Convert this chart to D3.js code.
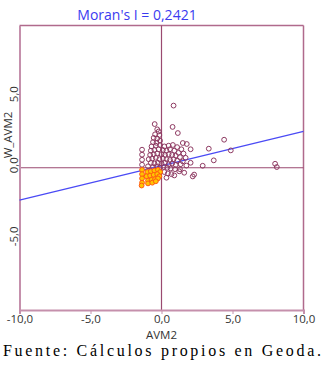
<!DOCTYPE html>
<html>
<head>
  <meta charset="utf-8">
  <title>Moran scatter plot</title>
  <script src="https://d3js.org/d3.v7.min.js"></script>
  <style>
    body{margin:0;background:#fff;}
  </style>
</head>
<body>
  <script>
      var w=332;
      var h=368;
      // regular points (AVM2, W_AVM2)
      var ptsX=[0.85,-0.48,0.78,1.15,1.5,1.78,2.05,3.33,4.41,4.88,3.68,2.9,2.2,2.3,0.9,1.3,8.0,8.12,2.05,
                -0.3,-0.2,-0.45,-0.15,-0.55,-0.3,-0.1,-0.6,-0.35,
                -1.37,-1.37,-1.37,-1.37,
                -0.7,-0.4,-0.1,0.2,0.5,0.8,1.1,1.4,
                -0.75,-0.5,-0.2,0.1,0.35,0.6,0.9,1.2,1.55,
                -0.8,-0.55,-0.3,0.0,0.25,0.5,0.75,1.0,1.3,1.7,
                -0.9,-0.65,-0.4,-0.15,0.1,0.35,0.6,0.85,1.1,1.5,
                -0.75,-0.5,-0.25,0.0,0.25,0.5,0.75,1.0,1.35,1.75,
                -0.95,-0.6,-0.35,-0.1,0.15,0.4,0.65,0.95,1.25,1.6,
                0.2,0.45,0.7,0.35];
      var ptsY=[4.37,3.07,2.87,2.44,1.74,1.67,1.3,1.34,1.97,1.22,0.52,0.14,-0.61,-0.48,-0.54,-0.1,0.28,0.05,0.35,
                2.7,2.55,2.35,2.3,2.1,2.05,1.9,1.8,1.75,
                1.27,0.92,0.56,0.21,
                1.5,1.55,1.6,1.5,1.55,1.6,1.45,1.3,
                1.2,1.25,1.3,1.25,1.2,1.3,1.2,1.05,1.0,
                0.9,0.95,1.0,0.95,0.9,0.95,0.9,0.85,0.75,0.7,
                0.6,0.65,0.7,0.6,0.65,0.6,0.55,0.6,0.5,0.45,
                0.35,0.3,0.35,0.3,0.35,0.25,0.3,0.2,0.25,0.15,
                0.1,0.05,0.1,0.02,0.05,0.0,-0.05,-0.1,-0.25,-0.35,
                -0.3,-0.4,-0.45,-0.7];
      // selected (low-low) points
      var selX=[-1.37,-1.37,-1.37,-1.37,-1.4,
                -1.0,-0.75,-0.5,-0.25,-0.1,
                -1.05,-0.8,-0.55,-0.3,-0.15,
                -0.95,-0.7,-0.45,-0.25,-0.95,-0.65,-0.4];
      var selY=[-0.15,-0.45,-0.75,-1.05,-1.25,
                -0.3,-0.25,-0.2,-0.15,-0.3,
                -0.6,-0.55,-0.5,-0.45,-0.6,
                -0.9,-0.85,-0.8,-0.75,-1.1,-1.05,-0.95];
      var slope=0.2421, intercept=0.14;
      var xTicks=[-10,-5,0,5,10];
      var yTicks=[-5,0,5];
      function fmt(v){return v.toFixed(1).replace(".",",");}

      var svg=d3.select("body").append("svg")
                .attr("width",w).attr("height",h);
      var x=d3.scaleLinear().domain([-10,10]).range([19.5,303.5]);
      var y=d3.scaleLinear().domain([-10,10]).range([310,25.5]);

      svg.append("text")
         .attr("x",137).attr("y",20)
         .attr("text-anchor","middle")
         .attr("font-family","Open Sans, sans-serif").attr("font-size",14)
         .attr("fill","#3b3bf0")
         .text("Moran's I = 0,2421");

      // frame
      svg.append("line").attr("x1",x(-10)).attr("x2",x(10)).attr("y1",y(10)).attr("y2",y(10))
         .attr("stroke","#b06a8c").attr("stroke-width",1.5);
      svg.append("line").attr("x1",x(10)).attr("x2",x(10)).attr("y1",y(10)).attr("y2",y(-10))
         .attr("stroke","#b06a8c").attr("stroke-width",1.5);

      // quadrant lines
      svg.append("line").attr("x1",x(0)).attr("x2",x(0)).attr("y1",y(10)).attr("y2",y(-10))
         .attr("stroke","#9a4a70").attr("stroke-width",1.2);
      svg.append("line").attr("x1",x(-10)).attr("x2",x(10)).attr("y1",y(0)).attr("y2",y(0))
         .attr("stroke","#9a4a70").attr("stroke-width",1.2);

      // axes
      var xa=svg.append("g").attr("transform","translate(0,"+y(-10)+")")
         .call(d3.axisBottom(x).tickValues(xTicks).tickSize(4).tickFormat(fmt));
      xa.select(".domain").attr("stroke","#c590ac").attr("stroke-width",2);
      xa.selectAll(".tick line").attr("stroke","#c590ac");
      xa.selectAll("text").attr("font-family","Open Sans, sans-serif").attr("font-size",11.5)
        .attr("fill","#333").attr("y",5);

      var ya=svg.append("g").attr("transform","translate("+x(-10)+",0)")
         .call(d3.axisLeft(y).tickValues(yTicks).tickSize(0).tickFormat(fmt));
      ya.select(".domain").attr("stroke","#c590ac").attr("stroke-width",2);
      ya.selectAll("text")
        .attr("font-family","Open Sans, sans-serif").attr("font-size",11.5).attr("fill","#333")
        .attr("transform","translate(-2,-3) rotate(-90)")
        .attr("x",0).attr("dy","0").attr("text-anchor","middle");

      svg.append("text")
         .attr("transform","translate(12,135) rotate(-90)")
         .attr("text-anchor","middle")
         .attr("font-family","Open Sans, sans-serif").attr("font-size",11.5).attr("fill","#333")
         .text("W_AVM2");
      svg.append("text")
         .attr("x",x(0)).attr("y",339)
         .attr("text-anchor","middle")
         .attr("font-family","Open Sans, sans-serif").attr("font-size",11.5).attr("fill","#333")
         .text("AVM2");

      // regression line
      svg.append("line")
         .attr("x1",x(-10)).attr("y1",y(slope*-10+intercept))
         .attr("x2",x(10)).attr("y2",y(slope*10+intercept))
         .attr("stroke","#4a4af5").attr("stroke-width",1.2);

      var pts=ptsX.map(function(d,i){return [d,ptsY[i]];});
      svg.selectAll("circle.p").data(pts).enter().append("circle")
         .attr("class","p")
         .attr("cx",function(d){return x(d[0]);})
         .attr("cy",function(d){return y(d[1]);})
         .attr("r",2.4)
         .attr("fill","none").attr("stroke","#8e3a62").attr("stroke-width",1);

      var sel=selX.map(function(d,i){return [d,selY[i]];});
      svg.selectAll("circle.s").data(sel).enter().append("circle")
         .attr("class","s")
         .attr("cx",function(d){return x(d[0]);})
         .attr("cy",function(d){return y(d[1]);})
         .attr("r",2.4)
         .attr("fill","#ffc400").attr("stroke","#ff5a10").attr("stroke-width",1);

      svg.append("text")
         .attr("x",3).attr("y",356)
         .attr("font-family","Liberation Serif, Times New Roman, serif").attr("font-size",16)
         .attr("fill","#000")
         .attr("textLength",318).attr("lengthAdjust","spacing")
         .text("Fuente: Cálculos propios en Geoda.");
  </script>
</body>
</html>
